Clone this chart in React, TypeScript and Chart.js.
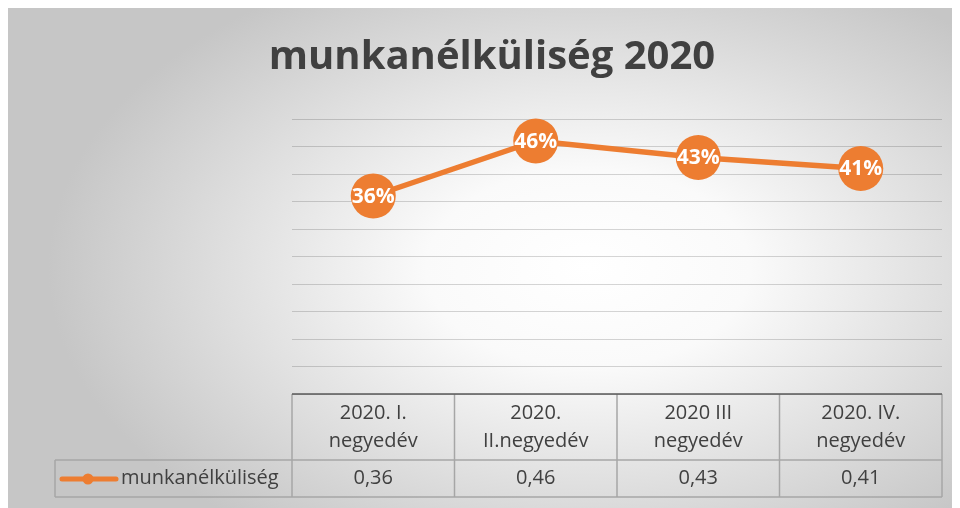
import React, { useEffect, useRef } from "react";
import { Chart, registerables } from "chart.js";

Chart.register(...registerables);

const chartTitle = "munkanélküliség 2020";
const seriesName = "munkanélküliség";
const categories: string[][] = [
  ["2020. I.", "negyedév"],
  ["2020.", "II.negyedév"],
  ["2020 III", "negyedév"],
  ["2020. IV.", "negyedév"],
];
const values = [0.36, 0.46, 0.43, 0.41];
const tableValues = ["0,36", "0,46", "0,43", "0,41"];
const yMin = 0;
const yMax = 0.5;
const yStep = 0.05;

const ORANGE = "#ED7D31";
const TEXT = "#404040";
const FONT = "'Open Sans', 'DejaVu Sans', sans-serif";

const W = 950;
const H = 500;

const decorPlugin = {
  id: "decor",
  beforeDraw(chart: any) {
    const ctx = chart.ctx as CanvasRenderingContext2D;
    const cx = 580, cy = 260, rx = 540, ry = 330;
    ctx.save();
    ctx.fillStyle = "#C8C8C8";
    ctx.fillRect(0, 0, W, H);
    ctx.translate(cx, cy);
    ctx.scale(1, ry / rx);
    const g = ctx.createRadialGradient(0, 0, 0, 0, 0, rx);
    g.addColorStop(0, "#FFFFFF");
    g.addColorStop(0.3, "#FAFAFA");
    g.addColorStop(1, "#C6C6C6");
    ctx.fillStyle = g;
    ctx.fillRect(-cx, (-cy * rx) / ry, W, (H * rx) / ry);
    ctx.restore();
  },
  afterDatasetsDraw(chart: any) {
    const ctx = chart.ctx as CanvasRenderingContext2D;
    const meta = chart.getDatasetMeta(0);
    ctx.save();
    ctx.fillStyle = "#FFFFFF";
    ctx.font = `bold 21px ${FONT}`;
    ctx.textAlign = "center";
    ctx.textBaseline = "middle";
    meta.data.forEach((pt: any, i: number) => {
      ctx.fillText(Math.round(values[i] * 100) + "%", pt.x, pt.y + 1);
    });
    ctx.restore();
  },
  afterDraw(chart: any) {
    const ctx = chart.ctx as CanvasRenderingContext2D;
    const area = chart.chartArea;
    const xs = chart.scales.x;
    ctx.save();
    // title
    ctx.fillStyle = TEXT;
    ctx.font = `bold 40px ${FONT}`;
    ctx.textAlign = "center";
    ctx.textBaseline = "alphabetic";
    ctx.fillText(chartTitle, 484, 61);

    // table
    const n = categories.length;
    const colW = (area.right - area.left) / n;
    const top = area.bottom;
    const mid = top + 66;
    const bottom = mid + 37;
    const legLeft = 47;

    ctx.strokeStyle = "#A6A6A6";
    ctx.lineWidth = 1.5;
    ctx.beginPath();
    for (let i = 0; i <= n; i++) {
      const x = area.left + i * colW;
      ctx.moveTo(x, top);
      ctx.lineTo(x, bottom);
    }
    ctx.moveTo(legLeft, mid);
    ctx.lineTo(legLeft, bottom);
    ctx.moveTo(legLeft, mid);
    ctx.lineTo(area.right, mid);
    ctx.moveTo(legLeft, bottom);
    ctx.lineTo(area.right, bottom);
    ctx.stroke();

    ctx.strokeStyle = "#595959";
    ctx.lineWidth = 1.5;
    ctx.beginPath();
    ctx.moveTo(area.left, top);
    ctx.lineTo(area.right, top);
    ctx.stroke();

    ctx.fillStyle = TEXT;
    ctx.font = `20px ${FONT}`;
    ctx.textAlign = "center";
    ctx.textBaseline = "middle";
    for (let i = 0; i < n; i++) {
      const x = xs.getPixelForValue(i);
      ctx.fillText(categories[i][0], x, top + 19);
      ctx.fillText(categories[i][1], x, top + 47);
      ctx.fillText(tableValues[i], x, mid + 18);
    }

    // legend key
    const ly = mid + 19;
    ctx.strokeStyle = ORANGE;
    ctx.lineWidth = 5;
    ctx.lineCap = "round";
    ctx.beginPath();
    ctx.moveTo(54, ly);
    ctx.lineTo(108, ly);
    ctx.stroke();
    ctx.fillStyle = ORANGE;
    ctx.beginPath();
    ctx.arc(80, ly, 5.5, 0, Math.PI * 2);
    ctx.fill();
    ctx.fillStyle = TEXT;
    ctx.textAlign = "left";
    ctx.fillText(seriesName, 113, mid + 18);
    ctx.restore();
  },
};

export default function App() {
  const ref = useRef<HTMLCanvasElement>(null);
  useEffect(() => {
    if (!ref.current) return;
    const chart = new Chart(ref.current, {
      type: "line",
      data: {
        labels: categories.map((c) => c.join(" ")),
        datasets: [
          {
            label: seriesName,
            data: values,
            borderColor: ORANGE,
            backgroundColor: ORANGE,
            borderWidth: 5.5,
            pointRadius: 22.5,
            pointBackgroundColor: ORANGE,
            pointBorderWidth: 0,
            tension: 0,
            clip: false as any,
          },
        ],
      },
      options: {
        animation: false,
        responsive: false,
        events: [],
        layout: {
          autoPadding: false,
          padding: { left: 284, right: 16, top: 111, bottom: 114 },
        },
        plugins: {
          legend: { display: false },
          title: { display: false },
          tooltip: { enabled: false },
        },
        scales: {
          x: {
            type: "category",
            display: false,
            offset: true,
          },
          y: {
            min: yMin,
            max: yMax,
            ticks: { stepSize: yStep, display: false },
            grid: { color: "rgba(0,0,0,0.16)", lineWidth: 1, drawTicks: false },
            border: { display: false },
            afterFit: (s: any) => {
              s.width = 0;
            },
          },
        },
      },
      plugins: [decorPlugin],
    });
    return () => chart.destroy();
  }, []);
  return (
    <div style={{ width: W, height: H }}>
      <canvas ref={ref} width={W} height={H} style={{ display: "block" }} />
    </div>
  );
}
